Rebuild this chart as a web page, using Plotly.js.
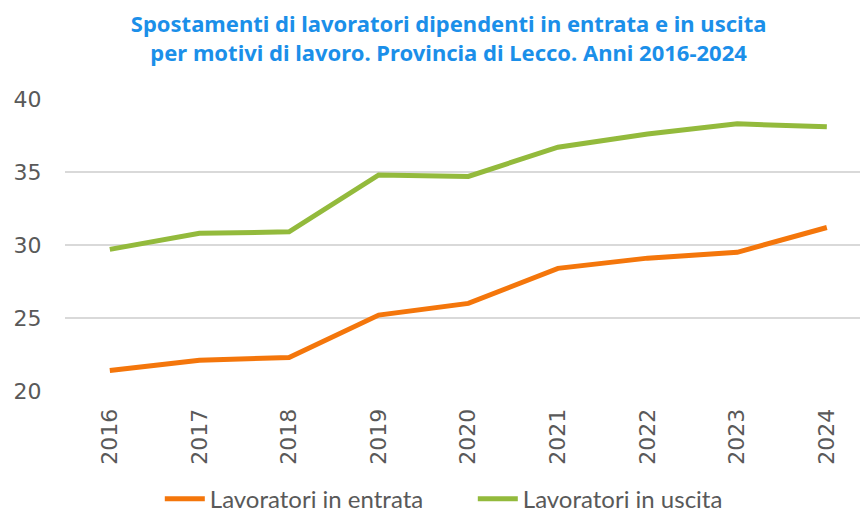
<!DOCTYPE html>
<html>
<head>
<meta charset="utf-8">
<script src="https://cdn.plot.ly/plotly-3.0.1.min.js"></script>
<style>html,body{margin:0;padding:0;background:#fff;}#chart{width:861px;height:513px;}</style>
</head>
<body>
<div id="chart"></div>
<script>
const years = ["2016","2017","2018","2019","2020","2021","2022","2023","2024"];
const entrata = [21.4, 22.1, 22.3, 25.2, 26.0, 28.4, 29.1, 29.5, 31.2];
const uscita = [29.7, 30.8, 30.9, 34.8, 34.7, 36.7, 37.6, 38.3, 38.1];
const yTicks = [20, 25, 30, 35, 40];

const traces = [
  {x: years, y: entrata, name: "Lavoratori in entrata", type: "scatter", mode: "lines",
   line: {color: "#f4760b", width: 5}},
  {x: years, y: uscita, name: "Lavoratori in uscita", type: "scatter", mode: "lines",
   line: {color: "#93ba3c", width: 5}}
];

const layout = {
  width: 861, height: 513,
  margin: {l: 65, r: 1, t: 99, b: 122},
  paper_bgcolor: "#fff", plot_bgcolor: "#fff",
  font: {family: "Noto Sans, sans-serif", color: "#595959"},
  title: {
    text: "<b>Spostamenti di lavoratori dipendenti in entrata e in uscita<br>per motivi di lavoro. Provincia di Lecco. Anni 2016-2024</b>",
    font: {family: "Noto Sans, sans-serif", size: 22, color: "#1b8fe9"},
    xref: "container", x: 0.521, xanchor: "center", y: 0.937, yanchor: "top"
  },
  xaxis: {
    type: "category", tickangle: -90, showgrid: false, zeroline: false, showline: false,
    tickfont: {size: 22, color: "#595959", family: "DejaVu Sans, sans-serif"},
    ticks: "outside", ticklen: 8, tickcolor: "rgba(0,0,0,0)",
    range: [-0.5, 8.37]
  },
  yaxis: {
    range: [20, 40], tickvals: yTicks, showgrid: true, gridcolor: "#d9d9d9", gridwidth: 1.5,
    zeroline: false, showline: false,
    tickfont: {size: 22, color: "#595959", family: "DejaVu Sans, sans-serif"},
    ticks: "outside", ticklen: 18, tickcolor: "rgba(0,0,0,0)"
  },
  showlegend: true,
  legend: {
    orientation: "h", xref: "container", x: 0.1856, xanchor: "left", yref: "container", y: 0.027, yanchor: "middle",
    font: {size: 24, color: "#595959", family: "Lato, sans-serif"},
    itemwidth: 40, tracegroupgap: 0, entrywidth: 258, entrywidthmode: "pixels"
  }
};

Plotly.newPlot("chart", traces, layout, {displayModeBar: false, staticPlot: true});
</script>
</body>
</html>
